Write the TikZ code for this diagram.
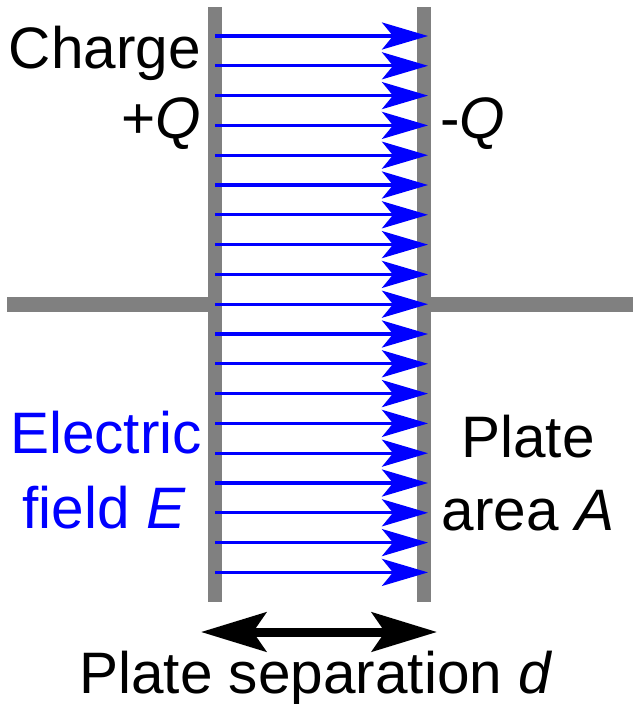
\documentclass[tikz,border=0pt]{standalone}
\usepackage{fontspec}
\setmainfont{Liberation Sans}
\usetikzlibrary{arrows.meta}
\definecolor{plategray}{RGB}{128,128,128}
\definecolor{fieldblue}{RGB}{0,0,255}
\begin{document}
\begin{tikzpicture}[x=1pt,y=-1pt,
  plate/.style={draw=plategray, line width=14pt, line cap=butt},
  wire/.style={draw=plategray, line width=15pt, line cap=butt},
  fieldline/.style={draw=fieldblue, line width=3.3pt,
    -{Stealth[length=46pt,width=27pt,inset=11pt]}},
  sep/.style={draw=black, line width=9pt,
    {Stealth[length=65pt,width=39pt,inset=13pt]}-{Stealth[length=65pt,width=39pt,inset=13pt]}},
  txt/.style={font=\fontsize{58.5pt}{70pt}\selectfont, inner sep=0pt}
]
\useasboundingbox (0,0) rectangle (640,704);
% plates
\coordinate (LT) at (215,7);
\coordinate (LB) at (215,602);
\coordinate (RT) at (424,7);
\coordinate (RB) at (424,602);
\draw[plate] (LT) -- (LB);
\draw[plate] (RT) -- (RB);
% wires
\coordinate (WL) at (7,304.5);
\coordinate (WLe) at (208,304.5);
\coordinate (WR) at (431,304.5);
\coordinate (WRe) at (633,304.5);
\draw[wire] (WL) -- (WLe);
\draw[wire] (WR) -- (WRe);
% field lines
\foreach \i in {0,...,18}{
  \coordinate (s\i) at (215,36+29.8*\i);
  \coordinate (t\i) at (428,36+29.8*\i);
  \draw[fieldline] (s\i) -- (t\i);
}
% separation arrow
\coordinate (dL) at (201,632);
\coordinate (dR) at (437,632);
\draw[sep] (dL) -- (dR);
% labels
\node[txt, anchor=base east] (charge) at (201,68) {Charge};
\node[txt, anchor=base east] (plusq) at (201,138) {+\textit{Q}};
\node[txt, anchor=base west] (minusq) at (440,138) {-\textit{Q}};
\node[txt, anchor=base, text=fieldblue] (electric) at (106,453) {Electric};
\node[txt, anchor=base, text=fieldblue] (field) at (104,528) {field \textit{E}};
\node[txt, anchor=base] (plate) at (528,457) {Plate};
\node[txt, anchor=base] (area) at (528,530) {area \textit{A}};
\node[txt, anchor=base] (sepl) at (316,693) {Plate separation \textit{d}};
\end{tikzpicture}
\end{document}
